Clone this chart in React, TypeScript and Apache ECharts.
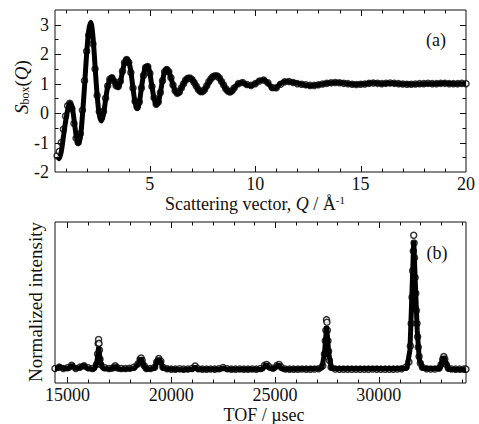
import React, { useEffect, useRef } from 'react';
import * as echarts from 'echarts';

const FONT = 'Liberation Serif';
const TEXT = '#111';

// ---- Panel (a): S_box(Q) ----
const sqObserved: number[][] = [
  [0.6, -1.45], [0.7, -1.3], [0.8, -1.0], [0.9, -0.55], [1.0, -0.1], [1.1, 0.25], [1.2, 0.33], [1.3, 0.15],
  [1.4, -0.35], [1.5, -0.85], [1.6, -1.0], [1.7, -0.7], [1.8, 0.1], [1.9, 1.1], [2.0, 2.1], [2.1, 2.65],
  [2.2, 2.7], [2.3, 2.35], [2.4, 1.5], [2.5, 0.6], [2.6, 0.05], [2.7, -0.15], [2.8, 0.05], [2.9, 0.5],
  [3.0, 0.92], [3.1, 1.15], [3.2, 1.2], [3.3, 1.08], [3.4, 0.93], [3.5, 0.9], [3.6, 1.08], [3.7, 1.42],
  [3.8, 1.72], [3.9, 1.82], [4.0, 1.72], [4.1, 1.38], [4.2, 0.85], [4.3, 0.4], [4.4, 0.2], [4.5, 0.38],
  [4.6, 0.85], [4.7, 1.28], [4.8, 1.55], [4.9, 1.58], [5.0, 1.35], [5.1, 0.9], [5.2, 0.52], [5.3, 0.3],
  [5.4, 0.38], [5.5, 0.7], [5.6, 1.1], [5.7, 1.4], [5.8, 1.48], [5.9, 1.4], [6.0, 1.2], [6.1, 0.95],
  [6.2, 0.76], [6.3, 0.67], [6.4, 0.72], [6.5, 0.86], [6.6, 1.0], [6.7, 1.12], [6.8, 1.18], [6.9, 1.19],
  [7.0, 1.14], [7.1, 1.04], [7.2, 0.92], [7.3, 0.8], [7.4, 0.73], [7.5, 0.73], [7.6, 0.8], [7.7, 0.93],
  [7.8, 1.06], [7.9, 1.17], [8.0, 1.24], [8.1, 1.27], [8.2, 1.26], [8.3, 1.19], [8.4, 1.07], [8.5, 0.95],
  [8.6, 0.83], [8.7, 0.75], [8.8, 0.72], [8.9, 0.76], [9.0, 0.85],
  [9.2, 1.0], [9.4, 1.04], [9.6, 0.97], [9.8, 0.94], [10.0, 1.0], [10.2, 1.09], [10.4, 1.12], [10.6, 1.03],
  [10.8, 0.87], [11.0, 0.86], [11.2, 0.98], [11.4, 1.06], [11.6, 1.07], [11.8, 1.04], [12.0, 1.0], [12.2, 0.98],
  [12.4, 0.96], [12.6, 0.94], [12.8, 0.94], [13.0, 0.96], [13.2, 0.99], [13.4, 1.01], [13.6, 1.03], [13.8, 1.04],
  [14.0, 1.03], [14.2, 1.01], [14.4, 1.0], [14.6, 0.98], [14.8, 0.97], [15.0, 0.98], [15.2, 0.99], [15.4, 1.01],
  [15.6, 1.02], [15.8, 1.01], [16.0, 1.0], [16.2, 1.01], [16.4, 1.02], [16.6, 1.01], [16.8, 1.0], [17.0, 0.99],
  [17.2, 0.98], [17.4, 0.98], [17.6, 0.99], [17.8, 1.0], [18.0, 1.0], [18.2, 1.01], [18.4, 1.0], [18.6, 1.0],
  [18.8, 1.01], [19.0, 1.01], [19.2, 1.0], [19.4, 1.0], [19.6, 1.0], [19.8, 1.01], [20.0, 1.0],
];

const sqFit: number[][] = [
  [0.65, -1.5], [0.7, -1.55], [0.8, -1.3], [0.9, -0.8], [1.0, -0.3], [1.1, 0.1], [1.2, 0.33], [1.3, 0.25],
  [1.4, -0.2], [1.5, -0.75], [1.6, -1.03], [1.7, -0.85], [1.8, -0.1], [1.9, 0.9], [2.0, 2.0], [2.1, 2.8],
  [2.2, 3.08], [2.3, 2.6], [2.4, 1.6], [2.5, 0.6], [2.6, -0.05], [2.7, -0.27], [2.8, -0.05], [2.9, 0.45],
  [3.0, 0.9], [3.1, 1.15], [3.2, 1.22], [3.3, 1.1], [3.4, 0.93], [3.5, 0.88], [3.6, 1.05], [3.7, 1.4],
  [3.8, 1.72], [3.9, 1.84], [4.0, 1.75], [4.1, 1.4], [4.2, 0.85], [4.3, 0.35], [4.4, 0.15], [4.5, 0.35],
  [4.6, 0.85], [4.7, 1.3], [4.8, 1.58], [4.9, 1.6], [5.0, 1.35], [5.1, 0.9], [5.2, 0.5], [5.3, 0.28],
  [5.4, 0.35], [5.5, 0.7], [5.6, 1.1], [5.7, 1.4], [5.8, 1.5], [5.9, 1.42], [6.0, 1.2], [6.1, 0.95],
  [6.2, 0.75], [6.3, 0.66], [6.4, 0.7], [6.5, 0.85], [6.6, 1.0], [6.7, 1.12], [6.8, 1.19], [6.9, 1.2],
  [7.0, 1.15], [7.1, 1.05], [7.2, 0.92], [7.3, 0.8], [7.4, 0.72], [7.5, 0.72], [7.6, 0.8], [7.7, 0.92],
  [7.8, 1.05], [7.9, 1.17], [8.0, 1.25], [8.1, 1.28], [8.2, 1.28], [8.3, 1.2], [8.4, 1.08], [8.5, 0.95],
  [8.6, 0.82], [8.7, 0.74], [8.8, 0.71], [8.9, 0.75], [9.0, 0.85], [9.2, 1.0], [9.4, 1.04], [9.6, 0.96],
  [9.8, 0.93], [10.0, 1.0], [10.2, 1.1], [10.4, 1.12], [10.6, 1.02], [10.8, 0.85], [10.9, 0.83], [11.0, 0.86],
  [11.2, 1.0], [11.5, 1.07], [11.8, 1.04], [12.2, 0.98], [12.6, 0.93], [13.0, 0.96], [13.5, 1.02], [13.9, 1.04],
  [14.4, 1.0], [14.8, 0.97], [15.2, 0.99], [15.6, 1.02], [16.0, 1.0], [16.5, 1.01], [17.0, 0.99], [17.5, 0.98],
  [18.0, 1.0], [18.5, 1.0], [19.0, 1.01], [19.5, 1.0], [20.0, 1.0],
];

const topXTicks = [1, 2, 3, 4, 5, 6, 7, 8, 9, 10, 11, 12, 13, 14, 15, 16, 17, 18, 19];
const topYTicks = [-1.5, -1, -0.5, 0, 0.5, 1, 1.5, 2, 2.5, 3];

// ---- Panel (b): TOF pattern ----
const tofObserved: number[][] = [
  [14400, 0.01], [14600, 0.02], [14800, 0.01], [15000, 0.015], [15200, 0.035], [15400, 0.01], [15600, 0.02],
  [15800, 0.03], [16000, 0.015], [16200, 0.01], [16400, 0.04], [16450, 0.12], [16480, 0.2], [16500, 0.23],
  [16520, 0.2], [16540, 0.15], [16570, 0.08], [16600, 0.04], [16800, 0.015], [17000, 0.01], [17200, 0.015],
  [17300, 0.03], [17400, 0.015], [17600, 0.01], [17800, 0.01], [18000, 0.012], [18200, 0.02], [18400, 0.045],
  [18500, 0.08], [18550, 0.09], [18600, 0.07], [18700, 0.03], [18800, 0.01], [19000, 0.01], [19200, 0.02],
  [19300, 0.06], [19400, 0.085], [19500, 0.065], [19600, 0.02], [19800, 0.008], [20000, 0.005], [20200, 0.005],
  [20400, 0.008], [20600, 0.005], [20800, 0.006], [21000, 0.01], [21150, 0.028], [21300, 0.008], [21500, 0.005],
  [21700, 0.005], [21900, 0.006], [22100, 0.005], [22300, 0.008], [22500, 0.018], [22700, 0.008], [22900, 0.005],
  [23100, 0.005], [23300, 0.006], [23500, 0.005], [23700, 0.005], [23900, 0.006], [24100, 0.005], [24300, 0.01],
  [24500, 0.035], [24600, 0.04], [24700, 0.025], [24900, 0.012], [25100, 0.035], [25200, 0.04], [25300, 0.02],
  [25500, 0.006], [25700, 0.005], [25900, 0.005], [26100, 0.005], [26300, 0.006], [26500, 0.005], [26700, 0.005],
  [26900, 0.006], [27100, 0.008], [27300, 0.03], [27380, 0.12], [27420, 0.22], [27450, 0.3], [27480, 0.38],
  [27500, 0.36], [27520, 0.3], [27550, 0.22], [27580, 0.14], [27620, 0.07], [27700, 0.02], [27900, 0.006],
  [28100, 0.005], [28300, 0.005], [28500, 0.005], [28700, 0.005], [28900, 0.005], [29100, 0.005], [29300, 0.005],
  [29500, 0.005], [29700, 0.006], [29900, 0.005], [30100, 0.005], [30300, 0.005], [30500, 0.005], [30700, 0.005],
  [30900, 0.006], [31100, 0.008], [31300, 0.02], [31450, 0.06], [31520, 0.18], [31560, 0.35], [31600, 0.55],
  [31630, 0.75], [31660, 0.9], [31680, 1.02], [31700, 0.96], [31720, 0.85], [31750, 0.7], [31780, 0.58],
  [31810, 0.45], [31840, 0.35], [31870, 0.25], [31900, 0.17], [31940, 0.1], [32000, 0.05], [32100, 0.02],
  [32300, 0.008], [32500, 0.006], [32700, 0.006], [32900, 0.012], [33000, 0.04], [33080, 0.08], [33130, 0.1],
  [33180, 0.08], [33250, 0.04], [33350, 0.012], [33500, 0.006], [33700, 0.005], [33900, 0.005], [34100, 0.005],
  [34200, 0.005],
];

const tofFit: number[][] = [
  [14400, 0.01], [14500, 0.01], [14630, 0.025], [14800, 0.01], [15100, 0.01], [15225, 0.04], [15350, 0.01],
  [15600, 0.015], [15780, 0.035], [15950, 0.01], [16300, 0.005], [16420, 0.06], [16505, 0.17], [16590, 0.06],
  [16700, 0.01], [17150, 0.005], [17300, 0.03], [17450, 0.005], [18200, 0.01], [18400, 0.04], [18543, 0.09],
  [18680, 0.03], [18800, 0.005], [19200, 0.01], [19300, 0.06], [19390, 0.085], [19500, 0.06], [19600, 0.01],
  [20500, 0.0], [21050, 0.005], [21150, 0.025], [21250, 0.005], [22400, 0.005], [22515, 0.015], [22650, 0.005],
  [24400, 0.005], [24567, 0.04], [24750, 0.01], [25000, 0.01], [25160, 0.04], [25350, 0.005], [27250, 0.01],
  [27380, 0.12], [27485, 0.33], [27590, 0.12], [27720, 0.01], [31350, 0.01], [31500, 0.15], [31600, 0.6],
  [31683, 0.98], [31760, 0.65], [31850, 0.3], [31950, 0.08], [32100, 0.01], [32950, 0.01], [33050, 0.07],
  [33125, 0.1], [33220, 0.06], [33350, 0.005], [34200, 0.0],
];

const botXTicks = [15000, 16000, 17000, 18000, 19000, 20000, 21000, 22000, 23000, 24000, 25000,
  26000, 27000, 28000, 29000, 30000, 31000, 32000, 33000, 34000];

const xTickSeries = (gridAxis: number, ticks: number[], majorEvery: number, yRef: number) => ({
  type: 'custom',
  xAxisIndex: gridAxis,
  yAxisIndex: gridAxis,
  silent: true,
  clip: false,
  z: 10,
  data: ticks.map((v) => [v, yRef]),
  renderItem: (params: any, api: any) => {
    const v = api.value(0);
    const cs = params.coordSys;
    const x = Math.round(api.coord([v, yRef])[0]) + 0.5;
    const len = Math.abs(v % majorEvery) < 1e-9 ? 6 : 3.5;
    const b = cs.y + cs.height;
    return {
      type: 'group',
      children: [
        { type: 'line', shape: { x1: x, y1: b, x2: x, y2: b - len }, style: { stroke: TEXT, lineWidth: 1 } },
        { type: 'line', shape: { x1: x, y1: cs.y, x2: x, y2: cs.y + len }, style: { stroke: TEXT, lineWidth: 1 } },
      ],
    };
  },
});

const yTickSeries = (gridAxis: number, ticks: number[], xRef: number) => ({
  type: 'custom',
  xAxisIndex: gridAxis,
  yAxisIndex: gridAxis,
  silent: true,
  clip: false,
  z: 10,
  data: ticks.map((v) => [xRef, v]),
  renderItem: (params: any, api: any) => {
    const v = api.value(1);
    const cs = params.coordSys;
    const y = Math.round(api.coord([xRef, v])[1]) + 0.5;
    const len = Number.isInteger(v) ? 6 : 3.5;
    const r = cs.x + cs.width;
    return {
      type: 'group',
      children: [
        { type: 'line', shape: { x1: cs.x, y1: y, x2: cs.x + len, y2: y }, style: { stroke: TEXT, lineWidth: 1 } },
        { type: 'line', shape: { x1: r, y1: y, x2: r - len, y2: y }, style: { stroke: TEXT, lineWidth: 1 } },
      ],
    };
  },
});

const labelStyle = { color: TEXT, fontSize: 18, fontFamily: FONT };

export default function App() {
  const ref = useRef<HTMLDivElement>(null);
  useEffect(() => {
    if (!ref.current) return;
    const chart = echarts.init(ref.current, undefined, { renderer: 'svg' });
    chart.setOption({
      animation: false,
      backgroundColor: '#fff',
      grid: [
        { left: 55, top: 10, width: 411, height: 162, show: true, borderColor: TEXT, borderWidth: 1, backgroundColor: 'transparent' },
        { left: 55, top: 222, width: 411, height: 161, show: true, borderColor: TEXT, borderWidth: 1, backgroundColor: 'transparent' },
      ],
      xAxis: [
        {
          type: 'value', gridIndex: 0, min: 0.5, max: 20, splitNumber: 4, minInterval: 5, maxInterval: 5,
          axisLine: { show: false }, axisTick: { show: false }, splitLine: { show: false },
          axisLabel: { ...labelStyle, margin: 3, formatter: (v: number) => (Math.abs(v % 5) < 1e-9 ? String(v) : '') },
        },
        {
          type: 'value', gridIndex: 1, min: 14400, max: 34200, splitNumber: 4, minInterval: 5000, maxInterval: 5000,
          axisLine: { show: false }, axisTick: { show: false }, splitLine: { show: false },
          axisLabel: { ...labelStyle, margin: 3, formatter: (v: number) => (v % 5000 === 0 ? String(v) : '') },
        },
      ],
      yAxis: [
        {
          type: 'value', gridIndex: 0, min: -2, max: 3.5, interval: 1,
          axisLine: { show: false }, axisTick: { show: false }, splitLine: { show: false },
          axisLabel: { ...labelStyle, margin: 6, formatter: (v: number) => (Number.isInteger(v) ? String(v) : '') },
        },
        {
          type: 'value', gridIndex: 1, min: -0.1, max: 1.12,
          axisLine: { show: false }, axisTick: { show: false }, splitLine: { show: false },
          axisLabel: { show: false },
        },
      ],
      series: [
        {
          type: 'scatter', xAxisIndex: 0, yAxisIndex: 0, data: sqObserved, symbol: 'circle', symbolSize: 6,
          itemStyle: { color: '#fff', borderColor: '#000', borderWidth: 1.5 }, z: 2,
        },
        {
          type: 'line', xAxisIndex: 0, yAxisIndex: 0, data: sqFit, smooth: 0.3, showSymbol: false, symbol: 'none',
          lineStyle: { color: '#000', width: 5 }, z: 3,
        },
        {
          type: 'scatter', xAxisIndex: 1, yAxisIndex: 1, data: tofObserved, symbol: 'circle', symbolSize: 6,
          itemStyle: { color: '#fff', borderColor: '#000', borderWidth: 1.5 }, z: 2,
        },
        {
          type: 'line', xAxisIndex: 1, yAxisIndex: 1, data: tofFit, smooth: false, showSymbol: false, symbol: 'none',
          lineStyle: { color: '#000', width: 5 }, z: 3,
        },
        xTickSeries(0, topXTicks, 5, 0),
        yTickSeries(0, topYTicks, 10),
        xTickSeries(1, botXTicks, 5000, 0.5),
      ],
      graphic: [
        {
          type: 'text', x: 21, y: 87, rotation: Math.PI / 2,
          style: {
            text: '{s|S}{sub|box}{n|(}{q|Q}{n|)}',
            align: 'center', verticalAlign: 'middle', fill: TEXT,
            rich: {
              s: { fontFamily: FONT, fontSize: 19, fontStyle: 'italic', fill: TEXT, lineHeight: 20 },
              sub: { fontFamily: FONT, fontSize: 12, fill: TEXT, verticalAlign: 'bottom', lineHeight: 10 },
              n: { fontFamily: FONT, fontSize: 19, fill: TEXT, lineHeight: 20 },
              q: { fontFamily: FONT, fontSize: 19, fontStyle: 'italic', fill: TEXT, lineHeight: 20 },
            },
          },
        },
        {
          type: 'text', x: 255, y: 204,
          style: {
            text: '{n|Scattering vector, }{q|Q}{n| / Å}{sup|-1}',
            align: 'center', verticalAlign: 'middle', fill: TEXT,
            rich: {
              n: { fontFamily: FONT, fontSize: 18, fill: TEXT, lineHeight: 20 },
              q: { fontFamily: FONT, fontSize: 18, fontStyle: 'italic', fill: TEXT, lineHeight: 20 },
              sup: { fontFamily: FONT, fontSize: 11, fill: TEXT, verticalAlign: 'top', lineHeight: 10 },
            },
          },
        },
        {
          type: 'text', x: 436, y: 40,
          style: { text: '(a)', align: 'center', verticalAlign: 'middle', fill: TEXT, font: `18px ${FONT}` },
        },
        {
          type: 'text', x: 35, y: 302, rotation: Math.PI / 2,
          style: { text: 'Normalized intensity', align: 'center', verticalAlign: 'middle', fill: TEXT, font: `19px ${FONT}` },
        },
        {
          type: 'text', x: 264, y: 415,
          style: { text: 'TOF / µsec', align: 'center', verticalAlign: 'middle', fill: TEXT, font: `18px ${FONT}` },
        },
        {
          type: 'text', x: 437, y: 253,
          style: { text: '(b)', align: 'center', verticalAlign: 'middle', fill: TEXT, font: `18px ${FONT}` },
        },
      ],
    });
    return () => chart.dispose();
  }, []);
  return <div ref={ref} style={{ width: 479, height: 424, position: 'absolute', left: 0, top: 0 }} />;
}
